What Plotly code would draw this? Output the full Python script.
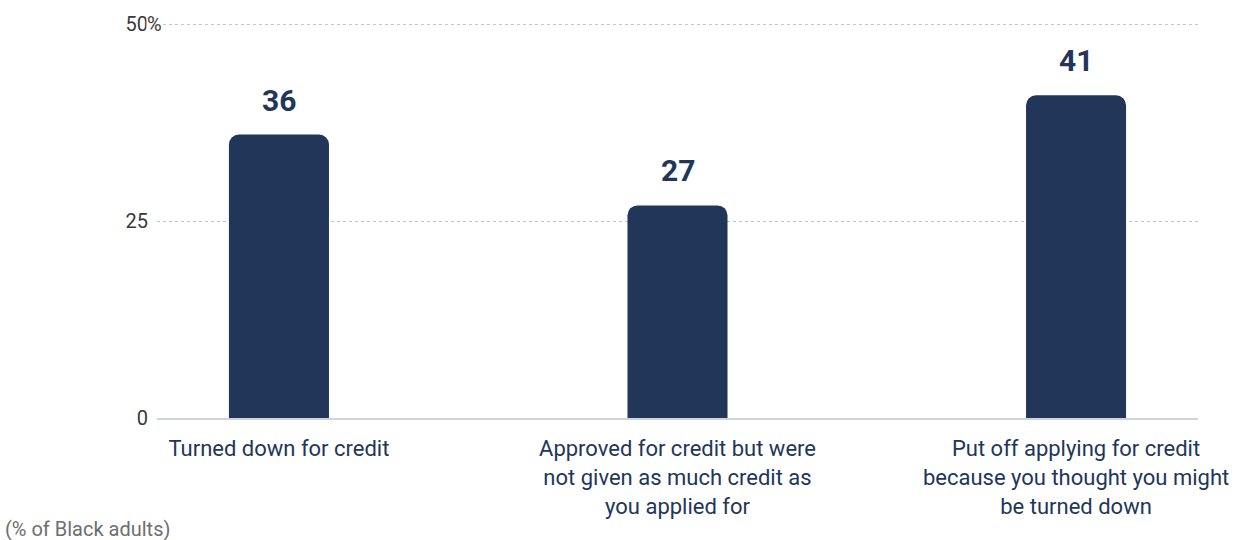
import plotly.graph_objects as go

categories = [
    'Turned down for credit',
    'Approved for credit but were<br>not given as much credit as<br>you applied for',
    'Put off applying for credit<br>because you thought you might<br>be turned down',
]
values = [36, 27, 41]
y_tickvals = [0, 25, 50]
y_ticktext = ['0', '25', '50']

navy = '#22365a'
gray = '#3a3a3a'

fig = go.Figure()
fig.add_trace(go.Bar(
    x=list(range(len(categories))), y=values,
    marker=dict(color=navy, cornerradius=10, line_width=0),
    width=0.251, hoverinfo='skip',
))

## value labels above bars
for i, v in enumerate(values):
    fig.add_annotation(x=i, y=v, text=f'<b>{v}</b>', showarrow=False,
                       yanchor='bottom', yshift=15,
                       font=dict(family='Roboto', size=30, color=navy))

## '%' sign hanging after top tick
fig.add_annotation(xref='paper', yref='y', x=0, y=50, text='%',
                   xanchor='left', showarrow=False, xshift=-11,
                   bgcolor='white', borderpad=0,
                   font=dict(family='Roboto', size=20, color=gray))

fig.add_annotation(xref='paper', yref='paper', x=0, y=0, text='(% of Black adults)',
                   xanchor='left', yanchor='middle', showarrow=False,
                   xshift=-154, yshift=-111,
                   font=dict(family='Roboto', size=20, color='#6e6e6e'))

fig.update_layout(
    width=1246, height=540,
    margin=dict(l=157, r=48, t=20, b=122),
    plot_bgcolor='white', paper_bgcolor='white',
    showlegend=False,
    font=dict(family='Roboto'),
    xaxis=dict(
        range=[-0.306, 2.306],
        tickvals=list(range(len(categories))), ticktext=categories,
        tickfont=dict(size=22, color=navy),
        showgrid=False, zeroline=False,
        showline=True, linecolor='#cfd4dc', linewidth=2,
        ticks='', ticklabelstandoff=10,
    ),
    yaxis=dict(
        range=[0, 50.3],
        tickvals=y_tickvals, ticktext=y_ticktext,
        tickfont=dict(size=20, color=gray),
        showgrid=True, gridcolor='#bfc5d2', griddash='3px,3px', gridwidth=1,
        zeroline=False, showline=False,
        ticks='', ticklabelstandoff=8,
    ),
)

fig.write_html('out.html', config={'displayModeBar': False},
               post_script="document.body.style.margin='0';")
